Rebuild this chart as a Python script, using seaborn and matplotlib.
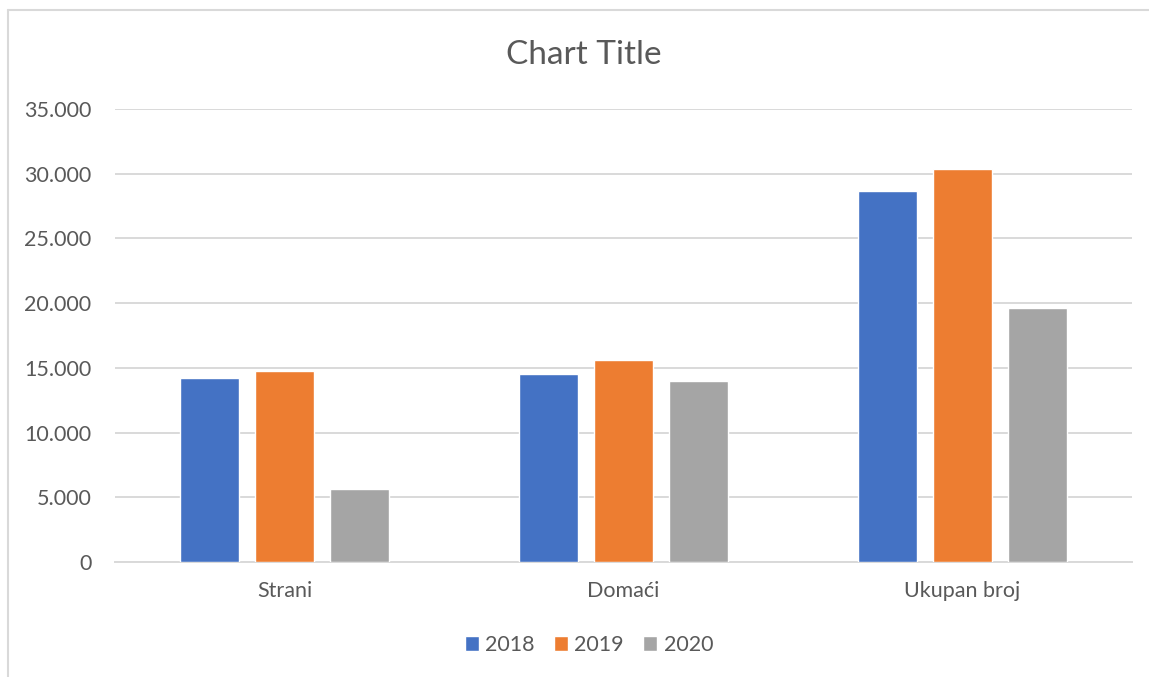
import numpy as np
import pandas as pd
import matplotlib
matplotlib.use("Agg")
import matplotlib.pyplot as plt
import seaborn as sns
from matplotlib.ticker import FuncFormatter
from matplotlib.lines import Line2D

# data
categories = ["Strani", "Domaći", "Ukupan broj"]
years = ["2018", "2019", "2020"]
values_2018 = [14180, 14490, 28700]
values_2019 = [14745, 15570, 30330]
values_2020 = [5675, 13970, 19620]
colors = ["#4472C4", "#ED7D31", "#A5A5A5"]

rows = []
for year, vals in zip(years, [values_2018, values_2019, values_2020]):
    for cat, v in zip(categories, vals):
        rows.append({"Kategorija": cat, "Godina": year, "Broj": v})
df = pd.DataFrame(rows)

sns.set_theme(style="white")
plt.rcParams["font.family"] = ["Lato", "DejaVu Sans"]
text_col = "#595959"
grid_col = "#D9D9D9"

W, H = 1149, 677
fig = plt.figure(figsize=(W / 100, H / 100), dpi=100)
ax = fig.add_axes([115 / W, 1 - 562 / H, (1132 - 115) / W, (562 - 109) / H])

sns.barplot(
    data=df, x="Kategorija", y="Broj", hue="Godina",
    order=categories, hue_order=years, palette=colors,
    saturation=1, width=0.664, gap=0.213, ax=ax, zorder=3,
)

ax.set_ylim(0, 35000)
ax.set_yticks(np.arange(0, 35001, 5000))
ax.yaxis.set_major_formatter(FuncFormatter(lambda v, p: f"{int(v):,}".replace(",", ".")))
ax.grid(axis="y", color=grid_col, linewidth=1.4, zorder=0)
ax.set_axisbelow(True)
for s in ["top", "right", "left"]:
    ax.spines[s].set_visible(False)
ax.spines["bottom"].set_color(grid_col)
ax.spines["bottom"].set_linewidth(1.4)
ax.set_xlabel("")
ax.set_ylabel("")
ax.tick_params(axis="y", length=0, pad=17, labelsize=15.5, labelcolor=text_col)
ax.tick_params(axis="x", length=0, pad=14, labelsize=15.5, labelcolor=text_col)

handles, labels = ax.get_legend_handles_labels()
ax.get_legend().remove()
fig.legend(
    handles, labels, loc="center", bbox_to_anchor=(589 / W, 1 - 645 / H),
    ncol=3, frameon=False, fontsize=15.5, labelcolor=text_col,
    handlelength=0.65, handleheight=0.65, handletextpad=0.3, columnspacing=0.9,
)

fig.text(584 / W, 1 - 55 / H, "Chart Title", ha="center", va="center",
         fontsize=24, color=text_col)

# chart area border (top and left visible in the reference)
fig.add_artist(Line2D([8 / W, 8 / W], [0, 1 - 10 / H], color=grid_col, linewidth=1.5))
fig.add_artist(Line2D([8 / W, 1], [1 - 10 / H, 1 - 10 / H], color=grid_col, linewidth=1.5))

fig.savefig("out.png", dpi=100)
